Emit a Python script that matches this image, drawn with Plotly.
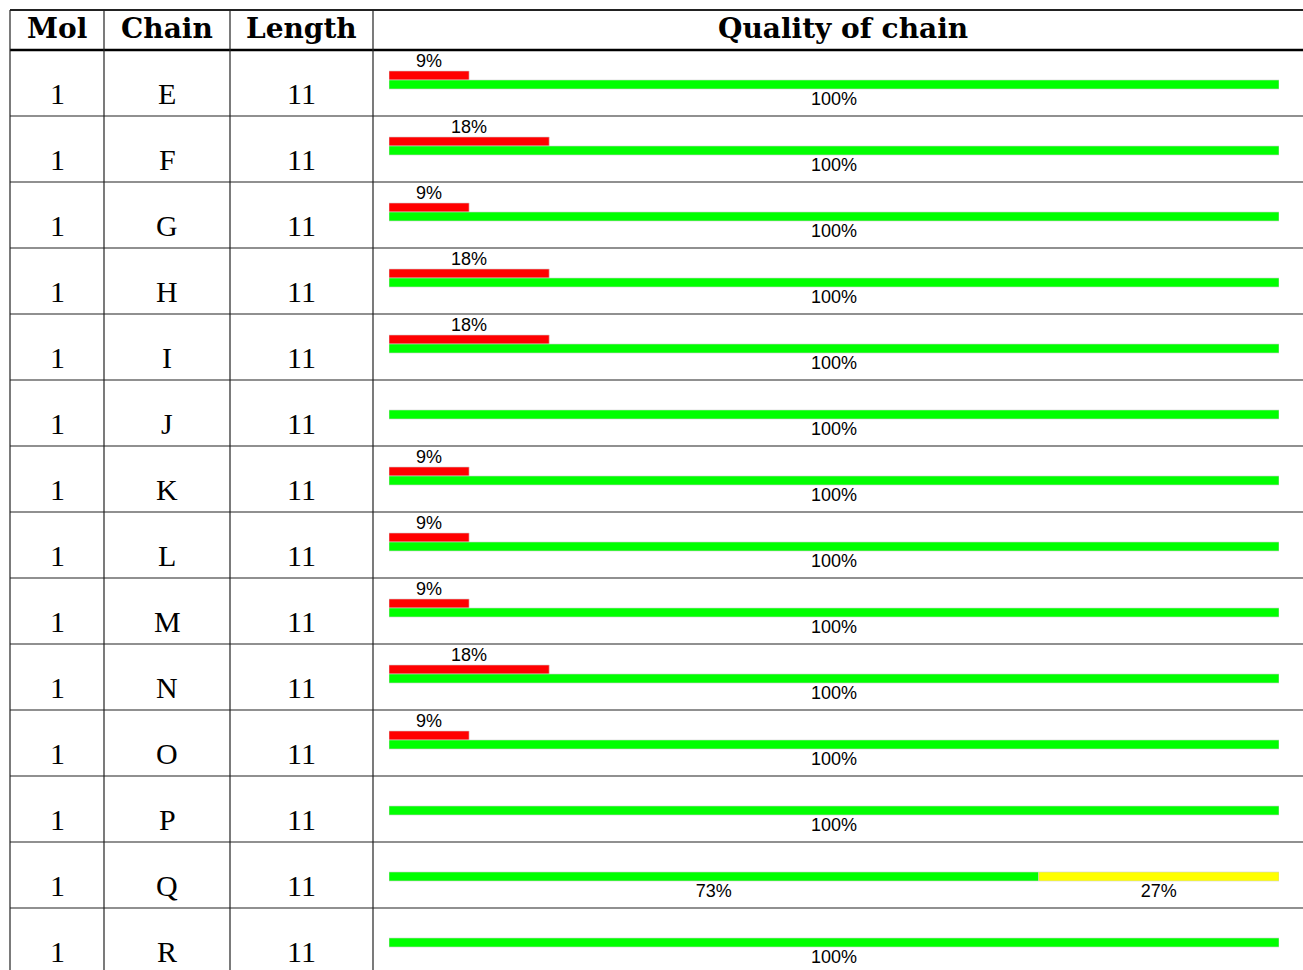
import plotly.graph_objects as go

# ---- data ----
chains = ["E", "F", "G", "H", "I", "J", "K", "L", "M", "N", "O", "P", "Q", "R"]
mol = [1] * 14
length = [11] * 14
red_pct = [9, 18, 9, 18, 18, 0, 9, 9, 9, 18, 9, 0, 0, 0]
green_pct = [100, 100, 100, 100, 100, 100, 100, 100, 100, 100, 100, 100, 73, 100]
yellow_pct = [0, 0, 0, 0, 0, 0, 0, 0, 0, 0, 0, 0, 27, 0]
headers = ["Mol", "Chain", "Length", "Quality of chain"]

# ---- layout constants (page pixels; body margin removed by post_script) ----
OFF = 0
W, H = 1303, 970
ROW_H = 66.0
HEAD_BOT = 50.0
TOP = 10.0
col_x = [10, 104, 230, 373, 1313]
bar_x0, bar_x1 = 389, 1279

def py(p):  # page pixel y -> data y (row units)
    return (p - HEAD_BOT) / ROW_H

def px(p):  # page pixel x -> paper x
    return (p - OFF) / W

n = len(chains)
rows = list(range(n))
BW = 9 / ROW_H
g_off = py(84.5)
r_off = py(75.5)

fig = go.Figure()

edge = dict(color="#d0d0d0", width=0.6)
ry = [i + r_off for i in rows if red_pct[i] > 0]
rx = [red_pct[i] for i in rows if red_pct[i] > 0]
fig.add_trace(go.Bar(x=rx, y=ry, orientation="h", width=BW, base=0,
                     marker=dict(color="#ff0000", line=edge), hoverinfo="skip"))
fig.add_trace(go.Bar(x=green_pct, y=[i + g_off for i in rows], orientation="h", width=BW, base=0,
                     marker=dict(color="#00ff00", line=edge), hoverinfo="skip"))
yy = [i + g_off for i in rows if yellow_pct[i] > 0]
yx = [yellow_pct[i] for i in rows if yellow_pct[i] > 0]
yb = [green_pct[i] for i in rows if yellow_pct[i] > 0]
fig.add_trace(go.Bar(x=yx, y=yy, base=yb, orientation="h", width=BW,
                     marker=dict(color="#ffff00", line=edge), hoverinfo="skip"))

lab_font = dict(family="Liberation Sans, Arial, sans-serif", size=18, color="#000")
fig.add_trace(go.Scatter(
    x=[red_pct[i] / 2 for i in rows if red_pct[i] > 0],
    y=[i + py(62) for i in rows if red_pct[i] > 0],
    text=[f"{red_pct[i]}%" for i in rows if red_pct[i] > 0],
    mode="text", textfont=lab_font, hoverinfo="skip"))
fig.add_trace(go.Scatter(
    x=[green_pct[i] / 2 for i in rows],
    y=[i + py(100.5) for i in rows],
    text=[f"{green_pct[i]}%" for i in rows],
    mode="text", textfont=lab_font, hoverinfo="skip"))
fig.add_trace(go.Scatter(
    x=[green_pct[i] + yellow_pct[i] / 2 for i in rows if yellow_pct[i] > 0],
    y=[i + py(100.5) for i in rows if yellow_pct[i] > 0],
    text=[f"{yellow_pct[i]}%" for i in rows if yellow_pct[i] > 0],
    mode="text", textfont=lab_font, hoverinfo="skip"))

shapes = []
line_col = "#222"
shapes.append(dict(type="line", xref="paper", yref="y", x0=px(col_x[0]), x1=px(col_x[-1]),
                   y0=py(TOP), y1=py(TOP), line=dict(color=line_col, width=1.8)))
shapes.append(dict(type="line", xref="paper", yref="y", x0=px(col_x[0]), x1=px(col_x[-1]),
                   y0=0, y1=0, line=dict(color="#000", width=2.6)))
for i in range(1, n + 1):
    shapes.append(dict(type="line", xref="paper", yref="y", x0=px(col_x[0]), x1=px(col_x[-1]),
                       y0=i, y1=i, line=dict(color=line_col, width=1.2)))
for cx in col_x[:-1]:
    shapes.append(dict(type="line", xref="paper", yref="y", x0=px(cx), x1=px(cx),
                       y0=py(TOP), y1=n + 0.5, line=dict(color=line_col, width=1.2)))

annotations = []
hfont = dict(family="DejaVu Serif, serif", size=28, color="#000")
for j, h in enumerate(headers):
    annotations.append(dict(x=px((col_x[j] + col_x[j + 1]) / 2), y=py(28), xref="paper", yref="y",
                            text=f"<b>{h}</b>", showarrow=False, font=hfont,
                            xanchor="center", yanchor="middle"))
cfont = dict(family="Liberation Serif, serif", size=30, color="#000")
for i in rows:
    vals = [str(mol[i]), chains[i], str(length[i])]
    for j, v in enumerate(vals):
        annotations.append(dict(x=px((col_x[j] + col_x[j + 1]) / 2), y=i + py(93.5), xref="paper", yref="y",
                                text=v, showarrow=False, font=cfont,
                                xanchor="center", yanchor="middle"))

fig.update_layout(
    width=W, height=H, margin=dict(l=0, r=0, t=0, b=0),
    paper_bgcolor="white", plot_bgcolor="white",
    showlegend=False, barmode="overlay",
    xaxis=dict(range=[0, 100], domain=[px(bar_x0), px(bar_x1)], visible=False, fixedrange=True),
    yaxis=dict(range=[py(970), py(OFF)], visible=False, fixedrange=True),
    shapes=shapes, annotations=annotations,
)
fig.write_html("out.html", config={"displayModeBar": False},
               post_script="document.body.style.margin='0';document.body.style.overflow='hidden';")
